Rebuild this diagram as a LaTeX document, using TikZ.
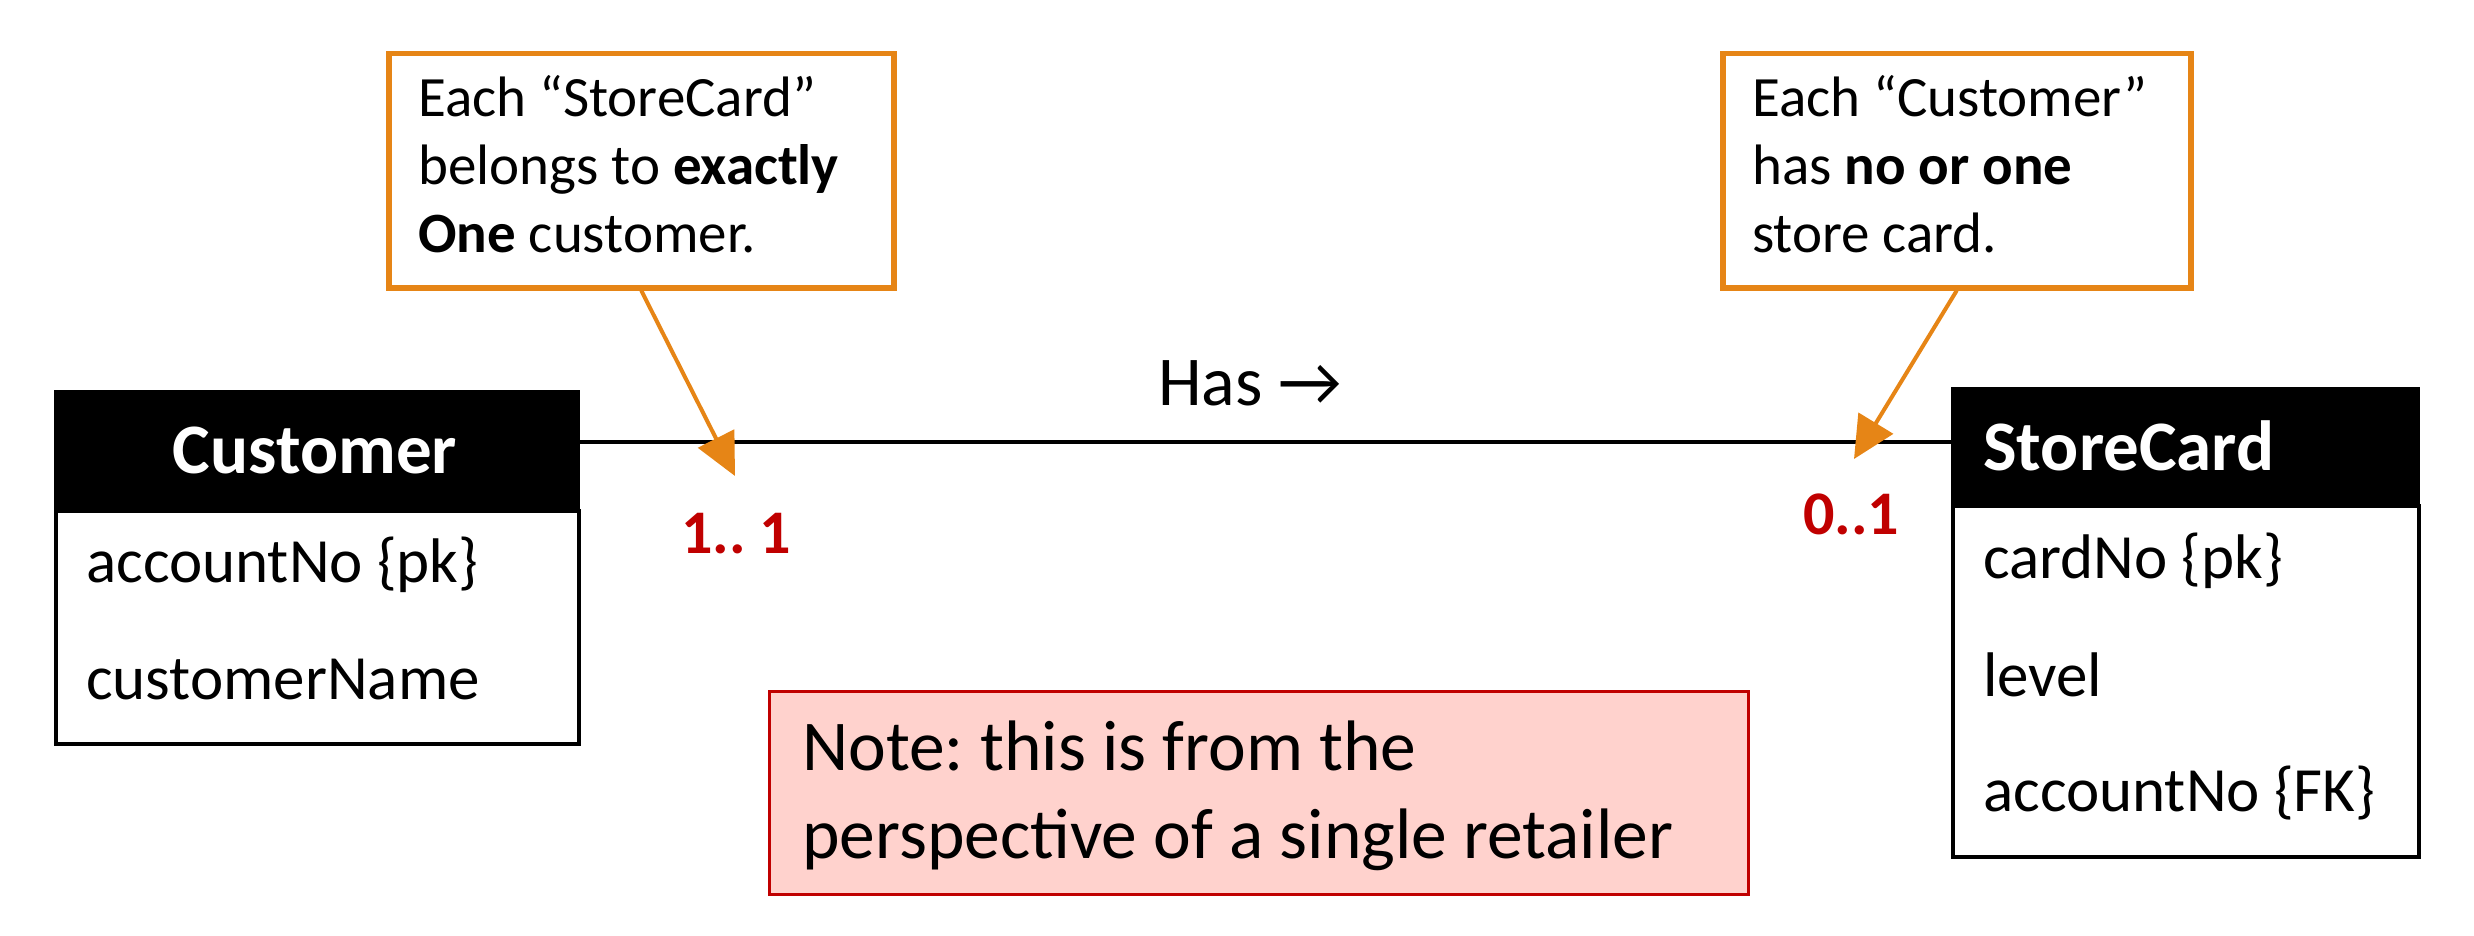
\documentclass[tikz,border=0pt]{standalone}
\usepackage{fontspec}
\setmainfont{Carlito}
\usetikzlibrary{arrows.meta}
\definecolor{calloutorange}{RGB}{230,133,22}
\definecolor{multred}{RGB}{192,0,0}
\definecolor{notefill}{RGB}{255,210,205}
\tikzset{
  headbox/.style={fill=black, draw=black, line width=3pt, inner sep=0pt, anchor=north west},
  bodybox/.style={fill=white, draw=black, line width=3.5pt, inner sep=0pt, anchor=north west},
  titletxt/.style={text=white, font=\fontsize{71}{85}\selectfont\bfseries, inner sep=0pt},
  attr/.style={font=\fontsize{63}{76}\selectfont, inner sep=0pt, anchor=base west},
  calloutbox/.style={draw=calloutorange, line width=5.5pt, fill=white, inner sep=0pt, anchor=north west},
  callouttxt/.style={font=\fontsize{57}{68}\selectfont, align=left, inner sep=0pt, anchor=base west},
  callarrow/.style={draw=calloutorange, line width=4pt, -{Triangle[length=42pt,width=40pt]}},
  mult/.style={text=multred, font=\fontsize{62}{74}\selectfont\bfseries, inner sep=0pt, anchor=base west},
  notebox/.style={fill=notefill, draw=multred, line width=3pt, inner sep=0pt, anchor=north west},
  notetxt/.style={font=\fontsize{71.5}{88}\selectfont, align=left, inner sep=0pt, anchor=base west},
  relline/.style={draw=black, line width=4.5pt},
}
\frenchspacing
\begin{document}
\begin{tikzpicture}[x=1pt,y=-1pt]
\useasboundingbox (0,0) rectangle (2474,936);
% Customer entity
\node[bodybox, minimum width=523pt, minimum height=233pt] (custbody) at (54,509) {};
\node[headbox, minimum width=523pt, minimum height=119pt] (custhead) at (54,390) {};
\node[titletxt, anchor=base] (custtitle) at (315,473) {Customer};
\node[attr] (custa1) at (86,582) {accountNo \{pk\}};
\node[attr] (custa2) at (86,699) {customerName};
% StoreCard entity
\node[bodybox, minimum width=466pt, minimum height=351pt] (cardbody) at (1951,504) {};
\node[headbox, minimum width=466pt, minimum height=117pt] (cardhead) at (1951,387) {};
\node[titletxt, anchor=base west] (cardtitle) at (1983,470) {StoreCard};
\node[attr] (carda1) at (1983,578) {cardNo \{pk\}};
\node[attr] (carda2) at (1983,696) {level};
\node[attr] (carda3) at (1983,811) {accountNo \{FK\}};
% relationship line
\coordinate (lineleft) at (custhead.east |- 0,442);
\coordinate (lineright) at (cardhead.west |- 0,442);
\draw[relline] (lineleft) -- (lineright);
\node[font=\fontsize{70}{84}\selectfont, inner sep=0pt, anchor=base west] (hasl) at (1158,405) {Has →};
% multiplicities
\node[mult] (m1) at (681,553) {1.. 1};
\node[mult] (m2) at (1803,534) {0..1};
% callouts
\node[calloutbox, minimum width=505pt, minimum height=234pt] (call1) at (386,51) {};
\node[callouttxt] (call1t) at (418,253) {Each “StoreCard”\\belongs to \textbf{exactly}\\\textbf{One} customer.};
\node[calloutbox, minimum width=468pt, minimum height=234pt] (call2) at (1720,51) {};
\node[callouttxt] (call2t) at (1752,253) {Each “Customer”\\has \textbf{no or one}\\store card.};
\coordinate (tip1) at (735,476);
\coordinate (tip2) at (1854,459);
\draw[callarrow] (call1.south) -- (tip1);
\draw[callarrow] (call2.south) -- (tip2);
% note
\node[notebox, minimum width=979pt, minimum height=203pt] (note) at (768,690) {};
\node[notetxt] (notet) at (802,858) {Note: this is from the\\perspective of a single retailer};
\end{tikzpicture}
\end{document}
